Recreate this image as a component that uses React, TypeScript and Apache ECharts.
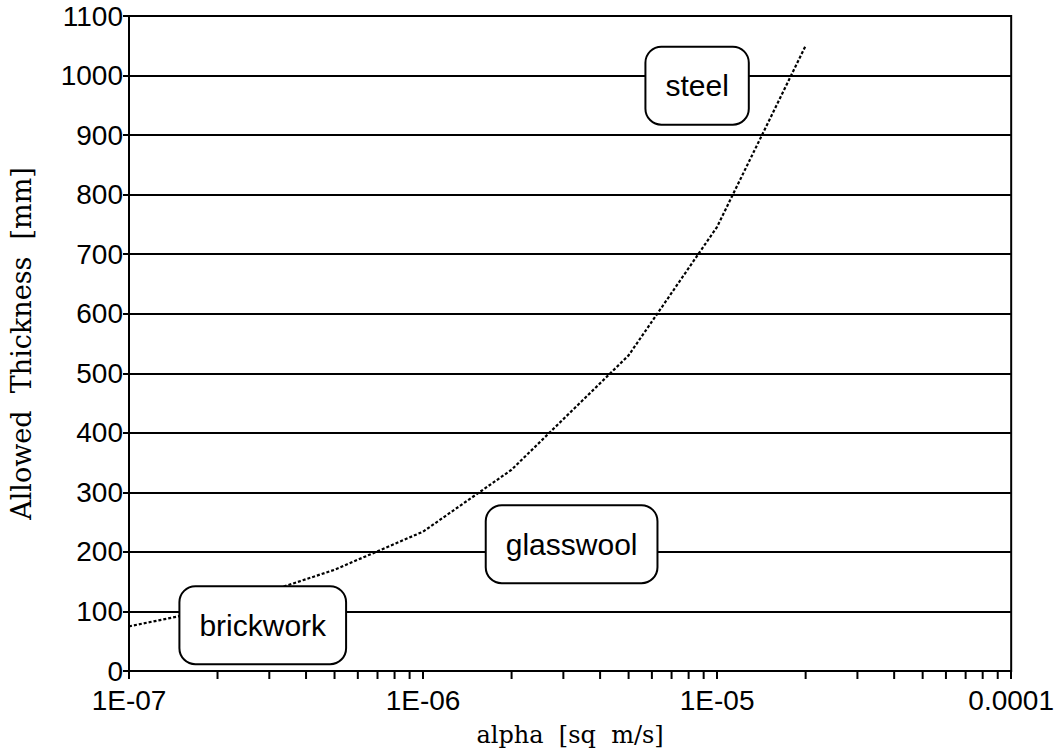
import React, { useEffect, useRef } from "react";
import * as echarts from "echarts";

const alphaValues = [1e-7, 2e-7, 5e-7, 1e-6, 2e-6, 5e-6, 1e-5, 2e-5];
const thicknessValues = [75, 105, 170, 234, 338, 530, 746, 1050];

const minorTickValues = [
  2e-7, 3e-7, 4e-7, 5e-7, 6e-7, 7e-7, 8e-7, 9e-7,
  2e-6, 3e-6, 4e-6, 5e-6, 6e-6, 7e-6, 8e-6, 9e-6,
  2e-5, 3e-5, 4e-5, 5e-5, 6e-5, 7e-5, 8e-5, 9e-5,
];

const materialNames = ["steel", "glasswool", "brickwork"];
const materialAlpha = [8.55e-6, 3.2e-6, 2.85e-7];
const materialThickness = [983, 213, 77];

const xTickLabels: Record<string, string> = {
  "-7": "1E-07",
  "-6": "1E-06",
  "-5": "1E-05",
  "-4": "0.0001",
};

export default function App() {
  const ref = useRef<HTMLDivElement>(null);
  useEffect(() => {
    if (!ref.current) return;
    const chart = echarts.init(ref.current, undefined, { renderer: "svg" });
    const sans = "Liberation Sans, Arial, Helvetica, sans-serif";
    const serif = "DejaVu Serif, Liberation Serif, serif";
    chart.setOption({
      animation: false,
      backgroundColor: "#fff",
      grid: {
        left: 127,
        right: 45,
        top: 16,
        bottom: 84,
        show: true,
        borderColor: "#000",
        borderWidth: 2,
      },
      xAxis: {
        type: "log",
        logBase: 10,
        min: 1e-7,
        max: 1e-4,
        name: "alpha  [sq  m/s]",
        nameLocation: "middle",
        nameGap: 52,
        nameTextStyle: { fontFamily: serif, fontSize: 24, color: "#000" },
        axisLine: { show: true, lineStyle: { color: "#000", width: 2 } },
        axisTick: { show: true, length: 8, lineStyle: { color: "#000", width: 2 } },
        axisLabel: {
          fontFamily: sans,
          fontSize: 28,
          color: "#000",
          margin: 15,
          formatter: (v: number) => xTickLabels[String(Math.round(Math.log10(v)))] ?? "",
        },
        splitLine: { show: false },
      },
      yAxis: {
        type: "value",
        min: 0,
        max: 1100,
        interval: 100,
        name: "Allowed  Thickness  [mm]",
        nameLocation: "middle",
        nameGap: 94,
        nameTextStyle: { fontFamily: serif, fontSize: 27, color: "#000" },
        axisLine: { show: true, lineStyle: { color: "#000", width: 2 } },
        axisTick: { show: true, length: 6, lineStyle: { color: "#000", width: 2 } },
        axisLabel: {
          fontFamily: sans,
          fontSize: 28,
          color: "#000",
          margin: 6,
          formatter: (v: number) => String(v),
        },
        splitLine: { show: true, lineStyle: { color: "#000", width: 2 } },
      },
      series: [
        {
          type: "line",
          data: alphaValues.map((a, i) => [a, thicknessValues[i]]),
          showSymbol: false,
          symbol: "none",
          lineStyle: { color: "#000", width: 2.2, type: [3, 2] },
          z: 3,
        },
        {
          type: "custom",
          data: minorTickValues.map((v) => [v, 0]),
          clip: false,
          silent: true,
          z: 4,
          renderItem: (params: any, api: any) => {
            const p = api.coord([api.value(0), 0]);
            return {
              type: "line",
              shape: { x1: p[0], y1: p[1], x2: p[0], y2: p[1] + 8 },
              style: { stroke: "#000", lineWidth: 2 },
            };
          },
        },
        {
          type: "scatter",
          symbolSize: 0,
          itemStyle: { color: "#fff", opacity: 1 },
          silent: true,
          z: 10,
          data: materialNames.map((n, i) => ({
            name: n,
            value: [materialAlpha[i], materialThickness[i]],
          })),
          label: {
            show: true,
            position: "inside",
            formatter: (p: any) => p.name,
            fontFamily: sans,
            fontSize: 30,
            lineHeight: 32,
            color: "#000",
            opacity: 1,
            textBorderWidth: 0,
            textShadowBlur: 0,
            shadowBlur: 0,
            shadowColor: "transparent",
            backgroundColor: "#fff",
            borderColor: "#000",
            borderWidth: 2,
            borderRadius: 15,
            padding: [22, 19, 22, 19],
          },
        },
      ],
    });
    return () => chart.dispose();
  }, []);
  return (
    <div
      ref={ref}
      style={{ position: "fixed", left: 0, top: 0, width: 1057, height: 755 }}
    />
  );
}
